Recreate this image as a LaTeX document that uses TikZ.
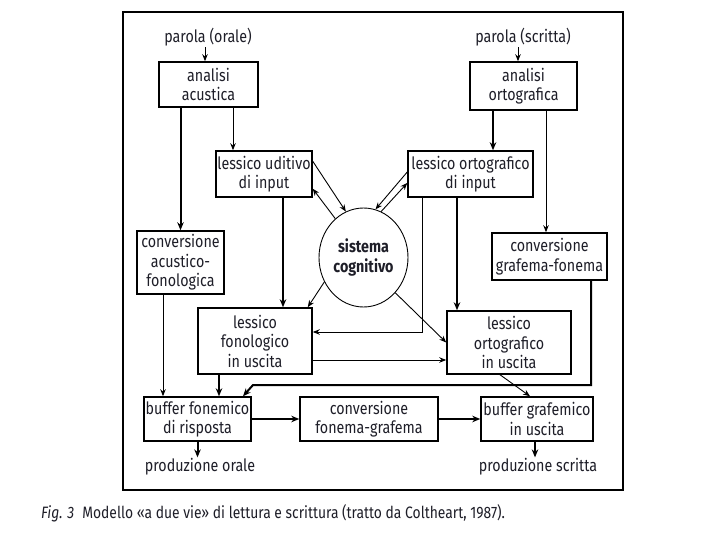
\documentclass[tikz,border=0pt]{standalone}
\usepackage{fontspec}
\setmainfont{Fira Sans}[FakeStretch=0.84]
\usetikzlibrary{arrows.meta,shapes.geometric,calc}
\definecolor{ink}{HTML}{1E1E28}
\begin{document}
\begin{tikzpicture}[x=1pt,y=-1pt,
  box/.style={draw, line width=1.5pt, inner sep=0pt, align=center, text=ink,
              font=\fontsize{17}{19.5}\selectfont},
  lbl/.style={inner sep=1pt, text=ink, font=\fontsize{17}{19.5}\selectfont},
  thickarr/.style={line width=2pt, -{Stealth[length=8pt,width=6.5pt]}},
  thinarr/.style={line width=0.9pt, -{Stealth[length=7pt,width=5.5pt]}},
  thinline/.style={line width=0.9pt},
  thickline/.style={line width=2pt}]
\useasboundingbox (0,0) rectangle (720,540);
\fill[white] (0,0) rectangle (720,540);
\draw[line width=1.4pt] (123,12) rectangle (623,490);

% nodes
\node[lbl] (po) at (208,37) {parola (orale)};
\node[lbl] (ps) at (523,37) {parola (scritta)};
\node[box, minimum width=99pt, minimum height=45pt] (aa) at (208.5,84.5) {analisi\\acustica};
\node[box, minimum width=107pt, minimum height=48pt] (ao) at (523.5,86) {analisi\\ortografica};
\node[box, minimum width=96pt, minimum height=46pt] (lui) at (264,174) {lessico uditivo\\di input};
\node[box, minimum width=125pt, minimum height=46pt] (loi) at (470.5,174) {lessico ortografico\\di input};
\node[draw, ellipse, line width=0.9pt, minimum width=89pt, minimum height=99pt, inner sep=0pt,
      align=center, text=ink, font=\fontsize{17}{19.5}\selectfont\bfseries] (sc) at (363.5,257.5) {sistema\\cognitivo};
\node[box, minimum width=87pt, minimum height=63pt] (caf) at (180.5,262.5) {conversione\\acustico-\\fonologica};
\node[box, minimum width=115pt, minimum height=47pt] (cgf) at (549.5,256.5) {conversione\\grafema-fonema};
\node[box, minimum width=114pt, minimum height=66pt] (lfu) at (255,341) {lessico\\fonologico\\in uscita};
\node[box, minimum width=124pt, minimum height=63pt] (lou) at (509,342.5) {lessico\\ortografico\\in uscita};
\node[box, minimum width=107pt, minimum height=44pt] (bf) at (197.5,419) {buffer fonemico\\di risposta};
\node[box, minimum width=138pt, minimum height=44pt] (cfg) at (369,419) {conversione\\fonema-grafema};
\node[box, minimum width=112pt, minimum height=44pt] (bg) at (537,419) {buffer grafemico\\in uscita};
\node[lbl] (pro) at (200,467) {produzione orale};
\node[lbl] (prs) at (538,467) {produzione scritta};
\node[anchor=west, inner sep=0pt, text=ink, font=\fontsize{16.5}{19}\selectfont] (cap) at (41,513)
  {\textit{Fig. 3}\hspace{8pt}Modello «a due vie» di lettura e scrittura (tratto da Coltheart, 1987).};

% input arrows
\path ([xshift=-3pt]po.south) coordinate (p1);
\draw[thinarr] (p1) -- (p1 |- aa.north);
\path ([xshift=-5pt]ps.south) coordinate (p2);
\draw[thinarr] (p2) -- (p2 |- ao.north);

% from analisi acustica
\draw[thickarr] (caf.north |- aa.south) -- (caf.north);
\path ([xshift=-31pt]lui.north) coordinate (t1);
\draw[thinarr] (t1 |- aa.south) -- (t1);

% from analisi ortografica
\path ([xshift=22.5pt]loi.north) coordinate (t2);
\draw[thickarr] (t2 |- ao.south) -- (t2);
\path ([xshift=-3.5pt]cgf.north) coordinate (t3);
\draw[thinarr] (t3 |- ao.south) -- (t3);

% lexicons <-> cognitive system
\draw[thinarr] ([yshift=-11pt]lui.north east) -- (sc.111);
\draw[thinarr] (sc.126) -- ([yshift=9pt]lui.south east);
\draw[thinarr] ([yshift=2pt]loi.west) -- (sc.76);
\draw[thinarr] (sc.69) -- ([yshift=-9pt]loi.west);
\draw[thinarr] (sc.212) -- ([xshift=-5pt]lfu.north east);
\draw[thinarr] (sc.312) -- (lou.west);

% input lexicons -> output lexicons
\path ([xshift=19pt]lui.south) coordinate (t4);
\draw[thickarr] (t4) -- (t4 |- lfu.north);
\path ([xshift=-13.5pt]loi.south) coordinate (t5);
\draw[thickarr] (t5) -- (t5 |- lou.north);
\draw[thinarr] ([xshift=15pt]loi.south west) |- ([yshift=9pt]lfu.east);
\path ([yshift=-19pt]lfu.east) coordinate (t6);
\draw[thinarr] (t6) -- (t6 -| lou.west);

% to buffers
\path ([xshift=-17.5pt]caf.south) coordinate (t7);
\draw[thinarr] (t7) -- (t7 |- bf.north);
\path ([xshift=-36pt]lfu.south) coordinate (t8);
\draw[thickarr] (t8) -- (t8 |- bf.north);
\coordinate (k2) at (253,385);
\draw[thickarr] ([xshift=41.5pt]cgf.south) |- (k2) -- ([xshift=45.5pt]bf.north);
\draw[thinarr] ([xshift=-9pt]lou.south) -- ([xshift=-7pt]bg.north);

% bottom row
\draw[thickarr] (bf.east) -- (cfg.west);
\draw[thickarr] (cfg.east) -- (bg.west);
\draw[thickarr] (bf.south) -- (bf.south |- pro.north);
\path ([xshift=-2pt]bg.south) coordinate (t9);
\draw[thickarr] (t9) -- (t9 |- prs.north);
\end{tikzpicture}
\end{document}
